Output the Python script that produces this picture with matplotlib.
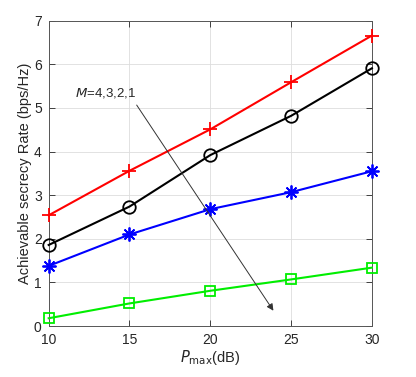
import matplotlib.pyplot as plt
import numpy as np

plt.rcParams['font.family'] = ['Liberation Sans', 'DejaVu Sans']

# Data
p_max = [10, 15, 20, 25, 30]
rate_m4 = [2.54, 3.56, 4.51, 5.59, 6.66]
rate_m3 = [1.86, 2.74, 3.92, 4.82, 5.91]
rate_m2 = [1.38, 2.10, 2.68, 3.07, 3.55]
rate_m1 = [0.18, 0.52, 0.81, 1.07, 1.34]

axis_gray = '#262626'

fig = plt.figure(figsize=(4.16, 3.77), dpi=100)
ax = fig.add_axes([0.117, 0.135, 0.777, 0.81])

ax.plot(p_max, rate_m4, color='red', marker='+', markersize=10, mew=1.3, lw=1.5, clip_on=False, zorder=3)
ax.plot(p_max, rate_m3, color='black', marker='o', markersize=9, mfc='none', mew=1.3, lw=1.5, clip_on=False, zorder=3)
ax.plot(p_max, rate_m2, color='blue', marker=(8, 2, 0), markersize=10, mew=1.3, lw=1.5, clip_on=False, zorder=3)
ax.plot(p_max, rate_m1, color='#00ee00', marker='s', markersize=7.5, mfc='none', mew=1.3, lw=1.5, clip_on=False, zorder=3)

# Arrow showing order of M
ax.annotate('', xy=(24.0, 0.30), xytext=(15.35, 5.12),
            arrowprops=dict(arrowstyle='-|>', color='#333333', lw=0.7, mutation_scale=10))
ax.text(11.65, 5.34, '$\\mathit{M}$=4,3,2,1', fontsize=9.5, va='center', ha='left', color='#262626')

ax.set_xlim(10, 30)
ax.set_ylim(0, 7)
ax.set_xticks([10, 15, 20, 25, 30])
ax.set_yticks(range(0, 8))
ax.grid(True, color='#dddddd', lw=0.6)
ax.set_axisbelow(True)
ax.tick_params(direction='in', length=4, width=0.6, colors=axis_gray, labelsize=10,
               top=True, right=True, pad=5)
for spine in ax.spines.values():
    spine.set_color('#555555')
    spine.set_linewidth(0.7)

ax.set_xlabel('$\\mathit{P}_{\\mathrm{max}}$(dB)', fontsize=10.5, color=axis_gray, labelpad=1)
ax.set_ylabel('Achievable secrecy Rate (bps/Hz)', fontsize=10.5, color=axis_gray, labelpad=1)

fig.savefig('out.png', dpi=100)
